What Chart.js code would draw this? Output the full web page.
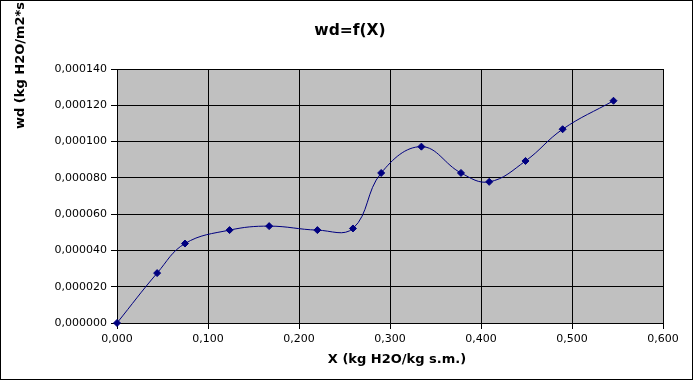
<!DOCTYPE html>
<html>
<head>
<meta charset="utf-8">
<script src="https://cdn.jsdelivr.net/npm/chart.js@4"></script>
<style>
  html, body { margin: 0; padding: 0; background: #fff; }
  #wrap { width: 694px; height: 381px; }
</style>
</head>
<body>
<div id="wrap"><canvas id="c" width="694" height="381"></canvas></div>
<script>
// ---- Data ----
const xValues = [0.0, 0.0441, 0.0747, 0.1237, 0.1672, 0.2202, 0.2593, 0.2903, 0.3345, 0.3780, 0.4090, 0.4489, 0.4897, 0.5456];
const wdValues = [0.0, 0.0000275, 0.0000438, 0.0000512, 0.0000534, 0.0000512, 0.0000521, 0.0000827, 0.0000972, 0.0000827, 0.0000778, 0.0000893, 0.0001068, 0.0001225];

const xTickValues = [0, 0.1, 0.2, 0.3, 0.4, 0.5, 0.6];
const xTickLabels = ["0,000", "0,100", "0,200", "0,300", "0,400", "0,500", "0,600"];
const yTickValues = [0, 0.00002, 0.00004, 0.00006, 0.00008, 0.0001, 0.00012, 0.00014];
const yTickLabels = ["0,000000", "0,000020", "0,000040", "0,000060", "0,000080", "0,000100", "0,000120", "0,000140"];

const chartTitle = "wd=f(X)";
const xAxisTitle = "X (kg H2O/kg s.m.)";
const yAxisTitle = "wd (kg H2O/m2*s)";

const FONT = "'DejaVu Sans', sans-serif";

const points = xValues.map((x, i) => ({ x: x, y: wdValues[i] }));

const decorPlugin = {
  id: 'decor',
  beforeDraw(chart) {
    const { ctx, chartArea: a } = chart;
    ctx.save();
    ctx.fillStyle = '#ffffff';
    ctx.fillRect(0, 0, chart.width, chart.height);
    ctx.fillStyle = '#c0c0c0';
    ctx.fillRect(a.left, a.top, a.right - a.left, a.bottom - a.top);
    ctx.restore();
  },
  afterDraw(chart) {
    const { ctx } = chart;
    ctx.save();
    // outer border
    ctx.strokeStyle = '#000';
    ctx.lineWidth = 1;
    ctx.strokeRect(0.5, 0.5, chart.width - 2, chart.height - 2);
    // title
    ctx.fillStyle = '#000';
    ctx.font = "bold 15.5px " + FONT;
    ctx.textAlign = 'center';
    ctx.textBaseline = 'middle';
    ctx.fillText(chartTitle, 350, 31);
    // x axis title
    ctx.font = "bold 13px " + FONT;
    ctx.fillText(xAxisTitle, 397, 360);
    // y axis title (rotated)
    ctx.translate(21, 129);
    ctx.rotate(-Math.PI / 2);
    ctx.textAlign = 'left';
    ctx.fillText(yAxisTitle, 0, 0);
    ctx.restore();
  }
};

new Chart(document.getElementById('c'), {
  type: 'scatter',
  data: {
    datasets: [{
      data: points,
      showLine: true,
      clip: false,
      borderColor: '#000080',
      borderWidth: 1,
      backgroundColor: '#000080',
      pointStyle: 'rectRot',
      pointRadius: 3.5,
      pointBorderWidth: 1,
      pointBorderColor: '#000080',
      pointBackgroundColor: '#000080',
      tension: 0.4
    }]
  },
  options: {
    responsive: false,
    animation: false,
    devicePixelRatio: 1,
    layout: { padding: { top: 69, right: 31, bottom: 0, left: 0 } },
    plugins: {
      legend: { display: false },
      title: { display: false },
      tooltip: { enabled: false }
    },
    scales: {
      x: {
        type: 'linear',
        min: 0,
        max: 0.6,
        afterFit(scale) { scale.height = 58; },
        afterBuildTicks(scale) { scale.ticks = xTickValues.map(v => ({ value: v })); },
        grid: { color: '#000', lineWidth: 1, tickLength: 6, drawTicks: true, tickColor: '#000' },
        border: { color: '#000', width: 1 },
        ticks: {
          color: '#000',
          font: { family: FONT, size: 11 },
          padding: 4,
          maxRotation: 0,
          autoSkip: false,
          callback: (v, i) => xTickLabels[i]
        }
      },
      y: {
        type: 'linear',
        min: 0,
        max: 0.00014,
        afterFit(scale) { scale.width = 117; },
        afterBuildTicks(scale) { scale.ticks = yTickValues.map(v => ({ value: v })); },
        grid: { color: '#000', lineWidth: 1, tickLength: 6, drawTicks: true, tickColor: '#000' },
        border: { color: '#000', width: 1 },
        ticks: {
          color: '#000',
          font: { family: FONT, size: 11 },
          padding: 4,
          autoSkip: false,
          callback: (v, i) => yTickLabels[i]
        }
      }
    }
  },
  plugins: [decorPlugin]
});
</script>
</body>
</html>
